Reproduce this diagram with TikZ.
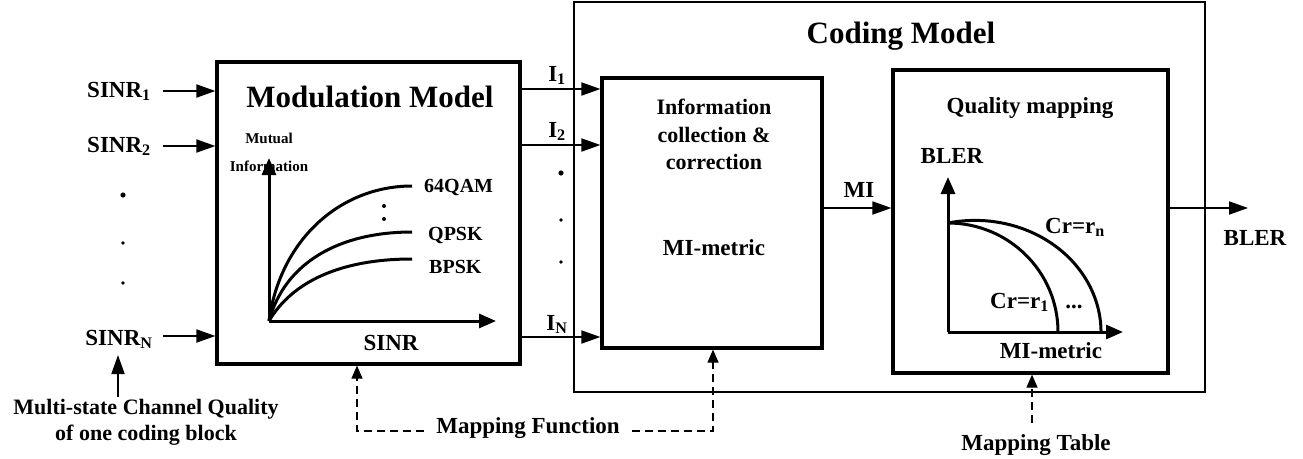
\documentclass[tikz,border=0pt]{standalone}
\usepackage{fontspec}
\setmainfont{Liberation Serif}
\usetikzlibrary{arrows.meta}
\begin{document}
\begin{tikzpicture}[x=1pt,y=-1pt,
  box/.style={draw, line width=3.2pt, inner sep=0pt},
  arr/.style={line width=1.8pt, -{Triangle[length=19pt,width=13pt]}},
  axis/.style={line width=3pt, -{Triangle[length=17pt,width=14pt]}},
  curve/.style={line width=3pt},
  dasharr/.style={line width=1.2pt, dash pattern=on 8pt off 5pt, -{Triangle[length=13pt,width=11pt]}},
  lbl/.style={font=\fontsize{23}{27}\selectfont\bfseries, inner sep=0pt, anchor=base},
  title/.style={font=\fontsize{31}{36}\selectfont\bfseries, inner sep=0pt, anchor=base},
  small/.style={font=\fontsize{15}{18}\selectfont\bfseries, inner sep=0pt, anchor=base},
  mid/.style={font=\fontsize{20}{24}\selectfont\bfseries, inner sep=0pt, anchor=base west},
]
\useasboundingbox (0,0) rectangle (1303,458);

% outer coding model frame
\node[draw, line width=1.2pt, minimum width=631pt, minimum height=390pt, inner sep=0pt] (cod) at (889.5,197) {};
\node[title] (codt) at (901,43) {Coding Model};

% main boxes
\node[box, minimum width=303pt, minimum height=302pt] (mod) at (368.5,213) {};
\node[box, minimum width=220pt, minimum height=270pt] (info) at (712,213) {};
\node[box, minimum width=275pt, minimum height=303pt] (qual) at (1030.5,221.5) {};

% modulation model content
\node[title] (modt) at (370,107) {Modulation Model};
\node[small] (mut) at (269,143) {Mutual};
\node[small] (minf) at (269,171) {Information};
\coordinate (mo) at (269,321);
\coordinate (myt) at (269,158);
\coordinate (mxt) at (496,321);
\draw[axis] (mo) -- (myt);
\draw[axis] (mo) -- (mxt);
\draw[curve] (mo) .. controls (280,240) and (340,186) .. (412,186);
\draw[curve] (mo) .. controls (285,262) and (340,232) .. (412,232);
\draw[curve] (mo) .. controls (292,282) and (340,259) .. (412,259);
\node[mid] (q64) at (424,192) {64QAM};
\node[mid] (qpsk) at (428,240) {QPSK};
\node[mid] (bpsk) at (429,273) {BPSK};
\fill (384,206) circle (2pt);
\fill (384,219) circle (2pt);
\node[lbl] (msinr) at (391,350) {SINR};

% inputs
\node[lbl] (s1) at (119,97) {SINR\textsubscript{1}};
\node[lbl] (s2) at (119,152) {SINR\textsubscript{2}};
\node[lbl] (sN) at (119,345) {SINR\textsubscript{N}};
\coordinate (in1) at (163,91);
\coordinate (in2) at (163,146);
\coordinate (inN) at (163,336);
\draw[arr] (in1) -- (in1 -| mod.west);
\draw[arr] (in2) -- (in2 -| mod.west);
\draw[arr] (inN) -- (inN -| mod.west);
\fill (123,195) circle (2.6pt);
\fill (123,243) circle (1.8pt);
\fill (123,283) circle (1.8pt);
\node[font=\fontsize{22}{26}\selectfont\bfseries, inner sep=0pt, align=center, anchor=north] (ms) at (146,399) {Multi-state Channel Quality\\of one coding block};
\coordinate (msa) at (118,397);
\draw[arr] (msa) -- (118,355);

% outputs of modulation model
\coordinate (r1) at (0,89);
\coordinate (r2) at (0,145);
\coordinate (rN) at (0,337);
\draw[arr] (r1 -| mod.east) -- (r1 -| info.west);
\draw[arr] (r2 -| mod.east) -- (r2 -| info.west);
\draw[arr] (rN -| mod.east) -- (rN -| info.west);
\node[lbl] (i1) at (557,81) {I\textsubscript{1}};
\node[lbl] (i2) at (557,137) {I\textsubscript{2}};
\node[lbl] (iN) at (557,330) {I\textsubscript{N}};
\fill (561,173) circle (2.6pt);
\fill (561,220) circle (1.8pt);
\fill (561,262) circle (1.8pt);

% info box content
\node[font=\fontsize{22}{27.5}\selectfont\bfseries, inner sep=0pt, align=center, anchor=north] (infot) at (714,99) {Information\\collection \&\\correction};
\node[lbl] (mim) at (714,255) {MI-metric};

% MI arrow
\coordinate (miy) at (0,208);
\draw[arr] (miy -| info.east) -- (miy -| qual.west);
\node[lbl] (mil) at (859,197) {MI};

% quality mapping content
\node[lbl] (qt) at (1030,113) {Quality mapping};
\node[lbl] (qbl) at (952,163) {BLER};
\coordinate (qo) at (948,332);
\coordinate (qyt) at (948,177);
\coordinate (qxt) at (1123,332);
\draw[axis] (qo) -- (qyt);
\draw[axis] (qo) -- (qxt);
\draw[curve] (948,223) arc[start angle=90, end angle=0, x radius=110pt, y radius=109pt];
\draw[curve] (948,223) arc[start angle=102.4, end angle=0, x radius=126pt, y radius=112pt];
\node[lbl, anchor=base west] (crn) at (1045,233) {Cr=r\textsubscript{n}};
\node[lbl, anchor=base west] (cr1) at (990,308) {Cr=r\textsubscript{1}};
\node[lbl] (dots) at (1074,308) {...};
\node[lbl] (qmim) at (1051,358) {MI-metric};

% output
\coordinate (bo) at (1248,208);
\draw[arr] (bo -| qual.east) -- (bo);
\node[lbl] (blo) at (1255,245) {BLER};

% mapping function
\node[lbl, inner xsep=12pt] (mf) at (528,433) {Mapping Function};
\coordinate (mfL) at (357,431);
\coordinate (mfR) at (713,431);
\draw[dasharr] (mf.west |- mfL) -- (mfL) -- (mfL |- mod.south);
\draw[dasharr] (mf.east |- mfR) -- (mfR) -- (mfR |- info.south);

% mapping table
\node[lbl] (mt) at (1036,450) {Mapping Table};
\coordinate (mtc) at (1032,423);
\draw[dasharr] (mtc) -- (mtc |- qual.south);
\end{tikzpicture}
\end{document}
